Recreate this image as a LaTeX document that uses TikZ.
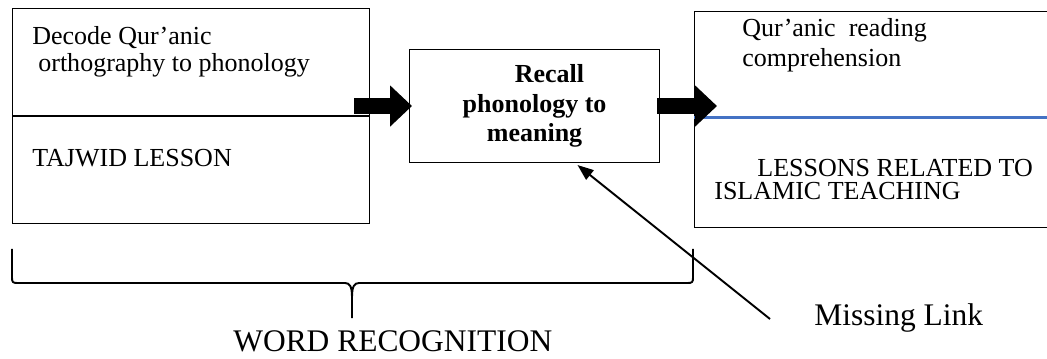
\documentclass[tikz,border=0pt]{standalone}
\usepackage{fontspec}
\setmainfont{Liberation Serif}
\usepackage{xcolor}
\usepackage{tikz}
\usetikzlibrary{arrows.meta}
\usetikzlibrary{positioning}

\definecolor{ruleblue}{RGB}{68,114,196}

\begin{document}
\begin{tikzpicture}[
	font=\fontsize{14.8}{15.4}\selectfont
]
\tikzset{
    mybox/.style = {rectangle, draw=black, line width=0.6pt, anchor=north west, inner sep=0pt},
    mytext/.style = {anchor=base west, inner sep=0pt},
    bigtext/.style = {mytext, font=\fontsize{17.9}{21}\selectfont},
    blockarrow/.style = {line width=0.32cm, -{Triangle[length=0.44cm,width=0.8cm]}},
    thinarrow/.style = {line width=1.1pt, -{Triangle[length=0.32cm,width=0.24cm]}},
    bracket/.style = {line width=1.1pt}
}
\useasboundingbox (0,0) rectangle (20.94,7.16);

% the three boxes
\node[mybox,minimum width=7.14cm,minimum height=4.30cm] (tajwid) at (0.24,7.00) {};
\node[mybox,minimum width=5.00cm,minimum height=2.26cm,align=center,
      font=\fontsize{14.8}{16.8}\selectfont\bfseries] (recall) at (8.18,6.18)
      {\hspace*{1.15em}Recall\\phonology to\\meaning};
\node[mybox,minimum width=7.40cm,minimum height=4.32cm] (islamic) at (13.88,6.94) {};

\draw[line width=1.1pt] (tajwid.west) -- (tajwid.east);
\draw[ruleblue,line width=1.4pt] ([yshift=0.04cm]islamic.west) -- ([yshift=0.04cm]islamic.east);

% box texts
\node[mytext] (decode) at (0.64,6.26) {Decode Qur’anic};
\node[mytext] (ortho) at (0.76,5.72) {orthography to phonology};
\node[mytext] (lesson) at (0.64,3.82) {TAJWID LESSON};
\node[mytext] (quran) at (14.84,6.42) {Qur’anic~~reading};
\node[mytext] (compre) at (14.84,5.82) {comprehension};
\node[mytext] (related) at (15.14,3.62) {LESSONS RELATED TO};
\node[mytext] (teaching) at (14.28,3.16) {ISLAMIC TEACHING};

% block arrows
\draw[blockarrow,shorten <=-0.32cm,shorten >=-0.06cm] (tajwid.east |- recall.west) -- (recall.west);
\draw[blockarrow,shorten <=-0.06cm,shorten >=-0.46cm] (recall.east) -- (islamic.west |- recall.east);

% brace under the first two boxes
\draw[bracket] (0.24,2.18) -- (0.24,1.60) .. controls (0.24,1.52) and (0.26,1.50) .. (0.34,1.50)
    -- (6.90,1.50) .. controls (7.00,1.50) and (7.04,1.42) .. (7.04,1.22) -- (7.04,0.80);
\draw[bracket] (7.04,1.22) .. controls (7.04,1.42) and (7.08,1.50) .. (7.18,1.50)
    -- (13.76,1.50) .. controls (13.84,1.50) and (13.86,1.52) .. (13.86,1.60) -- (13.86,2.18);

\node[bigtext] (word) at (4.66,0.14) {WORD RECOGNITION};
\node[bigtext] (missing) at (16.28,0.66) {Missing Link};

\coordinate (tail) at (15.40,0.78);
\draw[thinarrow] (tail) -- ([xshift=0.86cm,yshift=-0.04cm]recall.south);
\end{tikzpicture}
\end{document}
